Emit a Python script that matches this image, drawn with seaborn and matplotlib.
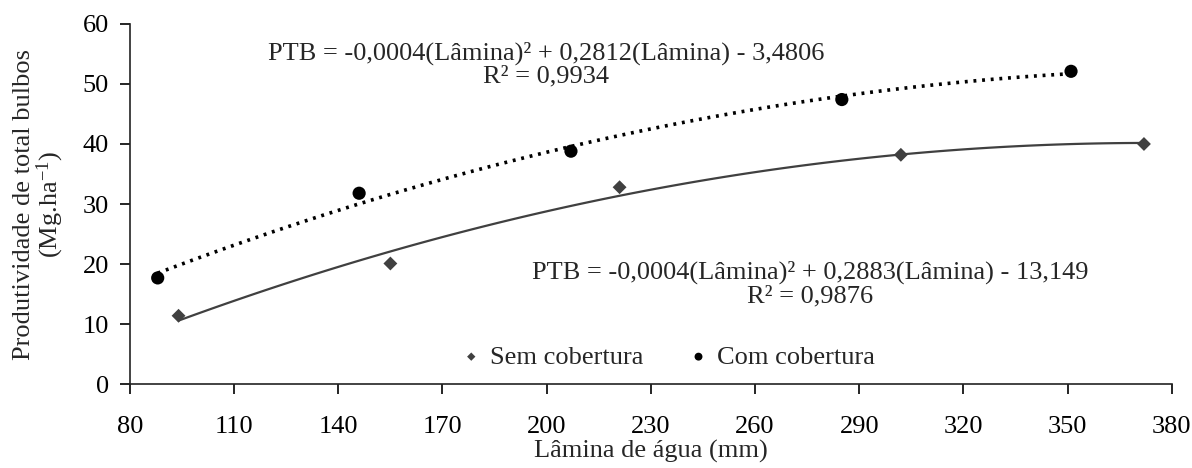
import matplotlib
matplotlib.use('Agg')
import matplotlib.pyplot as plt
import numpy as np
import seaborn as sns

# dados
lamina_sem = [94, 155, 221, 302, 372]
ptb_sem = [11.4, 20.1, 32.8, 38.2, 40.0]
lamina_com = [88, 146, 207, 285, 351]
ptb_com = [17.7, 31.8, 38.8, 47.4, 52.1]

eq_com = 'PTB = -0,0004(Lâmina)² + 0,2812(Lâmina) - 3,4806\nR² = 0,9934'
eq_sem = 'PTB = -0,0004(Lâmina)² + 0,2883(Lâmina) - 13,149\nR² = 0,9876'

sns.set_style('ticks')
plt.rcParams['font.family'] = ['Liberation Serif', 'DejaVu Serif']
plt.rcParams['mathtext.fontset'] = 'custom'
plt.rcParams['mathtext.rm'] = 'Liberation Serif'
plt.rcParams['mathtext.it'] = 'Liberation Serif:italic'
plt.rcParams['font.size'] = 19
plt.rcParams['axes.linewidth'] = 1.2
plt.rcParams['xtick.major.size'] = 7
plt.rcParams['ytick.major.size'] = 7
plt.rcParams['xtick.direction'] = 'out'
plt.rcParams['ytick.direction'] = 'out'

fig = plt.figure(figsize=(11.92, 4.68), dpi=100)
ax = fig.add_axes([0.109, 0.179, 0.874, 0.77])

sns.regplot(x=lamina_sem, y=ptb_sem, order=2, ci=None, truncate=True, ax=ax,
            marker='D', color='#404040', label='Sem cobertura',
            scatter_kws={'s': 50, 'zorder': 3, 'alpha': 1, 'edgecolors': 'none'},
            line_kws={'lw': 1.6, 'label': '_nolegend_'})
sns.regplot(x=lamina_com, y=ptb_com, order=2, ci=None, truncate=True, ax=ax,
            marker='o', color='black', label='Com cobertura',
            scatter_kws={'s': 90, 'zorder': 3, 'alpha': 1, 'edgecolors': 'none'},
            line_kws={'lw': 2.6, 'ls': (0, (0.8, 1.6)), 'label': '_nolegend_'})

ax.set_xlim(80, 380)
ax.set_ylim(0, 60)
ax.set_xticks(np.arange(80, 381, 30))
ax.set_yticks(np.arange(0, 61, 10))
ax.tick_params(colors='black', labelsize=19, width=1.2)
ax.tick_params(axis='x', pad=16)
ax.tick_params(axis='y', pad=8)
for s in ['left', 'bottom']:
    ax.spines[s].set_color('#222222')
sns.despine(ax=ax)

ax.set_xlabel('Lâmina de água (mm)', fontsize=19, labelpad=1)
ax.set_ylabel('Produtividade de total bulbos\n(Mg.ha$^{-1}$)', fontsize=19,
              linespacing=1.0, labelpad=12)

ax.text(199.8, 53.2, eq_com, ha='center', va='center', fontsize=19,
        linespacing=1.05)
ax.text(275.8, 16.7, eq_sem, ha='center', va='center', fontsize=19,
        linespacing=1.05)

ax.legend(loc='center', bbox_to_anchor=(0.515, 0.076), ncol=2,
          frameon=False, fontsize=19, markerscale=0.6, handletextpad=0.2,
          columnspacing=1.6, handlelength=1.0)

fig.savefig('out.png', dpi=100)
